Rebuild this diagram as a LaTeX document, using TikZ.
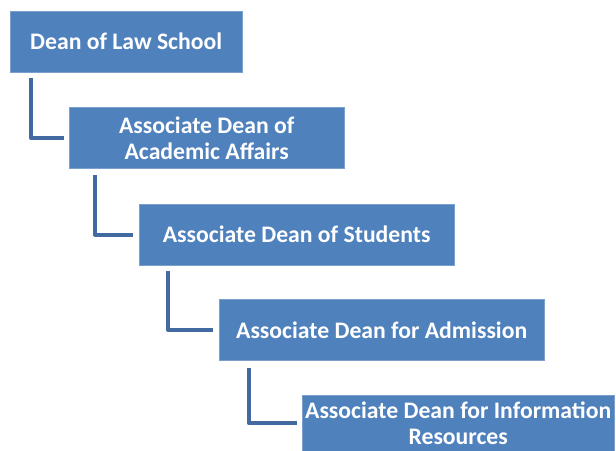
\documentclass[tikz,border=0pt]{standalone}
\usepackage{fontspec}
\setmainfont{Carlito}
\usetikzlibrary{positioning}
\definecolor{boxblue}{RGB}{79,129,189}
\definecolor{linkblue}{RGB}{66,106,160}

\begin{document}
\begin{tikzpicture}[node distance={35pt}, dean/.style = {draw=boxblue!75!white, fill=boxblue, text=white, font=\fontsize{23.7}{25.5}\selectfont\bfseries, minimum height=61pt, inner sep=0pt, align=center}, link/.style = {draw=linkblue, line width=4pt, line join=round}]
    \useasboundingbox (0,0) rectangle (616pt,-450pt);
    \node[dean, minimum width=232pt, anchor=north west] (law) at (10pt,-11pt) {Dean of Law School};
    \node[dean, minimum width=275pt] (acad) [below right=35pt and 59pt of law.south west] {Associate Dean of\\Academic Affairs};
    \node[dean, minimum width=315pt] (stud) [below right=35pt and 70pt of acad.south west] {Associate Dean of Students};
    \node[dean, minimum width=325pt] (adm) [below right=34pt and 80pt of stud.south west] {Associate Dean for Admission};
    \node[dean, minimum width=312pt, minimum height=57pt] (info) [below right=34pt and 83pt of adm.south west] {Associate Dean for Information\\Resources};
    \draw[link] ([xshift=21pt,yshift=-6pt]law.south west) |- ([xshift=-5pt]acad.west);
    \draw[link] ([xshift=26pt,yshift=-6pt]acad.south west) |- ([xshift=-6pt]stud.west);
    \draw[link] ([xshift=29pt,yshift=-6pt]stud.south west) |- ([xshift=-6pt]adm.west);
    \draw[link] ([xshift=30pt,yshift=-7pt]adm.south west) |- ([xshift=-5pt]info.west);
\end{tikzpicture}
\end{document}
